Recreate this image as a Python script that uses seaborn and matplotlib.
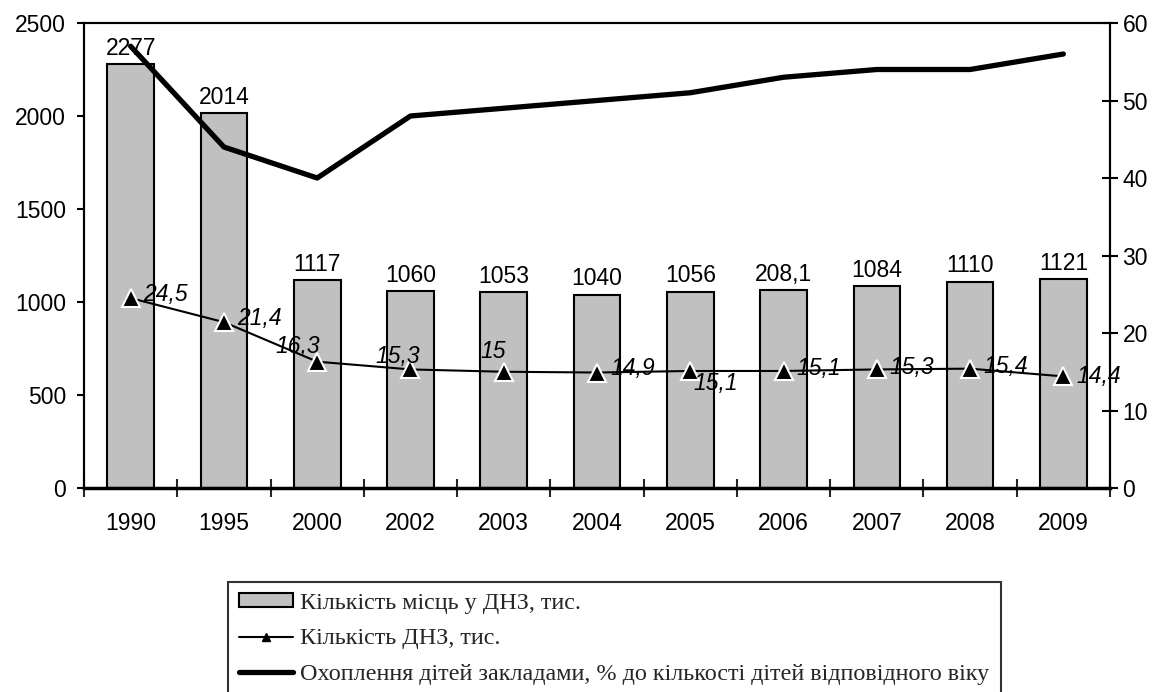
import matplotlib
matplotlib.use("Agg")
import matplotlib.pyplot as plt
import seaborn as sns
import pandas as pd
import numpy as np
from matplotlib.lines import Line2D
from matplotlib.patches import Patch

years = ["1990", "1995", "2000", "2002", "2003", "2004", "2005", "2006", "2007", "2008", "2009"]
places = [2277, 2014, 1117, 1060, 1053, 1040, 1056, 1062, 1084, 1110, 1121]
place_labels = ["2277", "2014", "1117", "1060", "1053", "1040", "1056", "208,1", "1084", "1110", "1121"]
institutions = [24.5, 21.4, 16.3, 15.3, 15.0, 14.9, 15.1, 15.1, 15.3, 15.4, 14.4]
inst_labels = ["24,5", "21,4", "16,3", "15,3", "15", "14,9", "15,1", "15,1", "15,3", "15,4", "14,4"]
coverage = [57, 44, 40, 48, 49, 50, 51, 53, 54, 54, 56]

leg_bar = "Кількість місць у ДНЗ, тис."
leg_inst = "Кількість ДНЗ, тис."
leg_cov = "Охоплення дітей закладами, % до кількості дітей відповідного віку"

sns.set_theme(style="white")
plt.rcParams["font.family"] = ["Liberation Sans", "DejaVu Sans"]

FS = 16.5
PX = 0.72  # points per pixel at 100 dpi

df = pd.DataFrame({"year": years, "places": places, "pos": np.arange(len(years)),
                   "inst": institutions, "cov": coverage})

fig = plt.figure(figsize=(11.57, 6.92), dpi=100)
ax = fig.add_axes([84/1157, 1-488/692, (1110-84)/1157, (488-23)/692])

sns.barplot(data=df, x="year", y="places", ax=ax, color="#c0c0c0", width=0.5,
            edgecolor="black", linewidth=1.5, saturation=1)
ax.set_xlim(-0.5, len(years)-0.5)
ax.set_ylim(0, 2500)
ax.set_yticks([0, 500, 1000, 1500, 2000, 2500])
ax.set_xlabel("")
ax.set_ylabel("")
ax.tick_params(axis="y", direction="out", length=5, width=1.5, labelsize=FS, pad=8, colors="black")
ax.tick_params(axis="x", which="major", length=0, labelsize=FS, pad=17, colors="black")
ax.set_xticks(np.arange(-0.5, len(years)), minor=True)
ax.tick_params(axis="x", which="minor", direction="inout", length=13, width=1.5, bottom=True)
for s in ax.spines.values():
    s.set_color("black")
    s.set_linewidth(1.5)
ax.spines["bottom"].set_linewidth(2.5)

for i, (v, lab) in enumerate(zip(places, place_labels)):
    ax.annotate(lab, (i, v), xytext=(0, 3), textcoords="offset points",
                ha="center", va="bottom", fontsize=FS, color="black")

ax2 = ax.twinx()
sns.lineplot(data=df, x="pos", y="cov", ax=ax2, color="black", linewidth=3.8, sort=False)
sns.lineplot(data=df, x="pos", y="inst", ax=ax2, color="black", linewidth=1.5, sort=False,
             marker="^", markersize=13, markerfacecolor="black", markeredgecolor="white",
             markeredgewidth=1.5)
ax2.set_ylim(0, 60)
ax2.set_yticks([0, 10, 20, 30, 40, 50, 60])
ax2.set_xlim(-0.5, len(years)-0.5)
ax2.set_xlabel("")
ax2.set_ylabel("")
ax2.tick_params(axis="y", direction="inout", length=12, width=1.5, labelsize=FS, pad=3, colors="black")
for s in ax2.spines.values():
    s.set_color("black")
    s.set_linewidth(1.5)
ax2.spines["bottom"].set_visible(False)

# (dx px, dy px up, alignment)
offsets = [(13, 4, "left"), (13, 4, "left"), (-19, 15, "center"), (-13, 13, "center"),
           (-11, 20, "center"), (13, 4, "left"), (3, -13, "left"), (13, 2, "left"),
           (13, 2, "left"), (13, 2, "left"), (13, 0, "left")]
for i, (v, lab) in enumerate(zip(institutions, inst_labels)):
    dx, dy, ha = offsets[i]
    ax2.annotate(lab, (i, v), xytext=(dx * PX, dy * PX), textcoords="offset points",
                 ha=ha, va="center", fontsize=FS, style="italic", color="black")

handles = [
    Patch(facecolor="#c0c0c0", edgecolor="black", linewidth=1.5),
    Line2D([], [], color="black", linewidth=1.5, marker="^", markersize=6,
           markerfacecolor="black", markeredgecolor="black"),
    Line2D([], [], color="black", linewidth=3.8),
]
leg = fig.legend(handles, [leg_bar, leg_inst, leg_cov], loc="upper left",
                 bbox_to_anchor=(228/1157, 1-582/692), frameon=True, fancybox=False,
                 prop={"family": "Liberation Serif", "size": 17.4}, handlelength=2.25,
                 handleheight=0.5, handletextpad=0.3, borderpad=0.45, labelspacing=0.6,
                 borderaxespad=0)
leg.get_frame().set_edgecolor("black")
leg.get_frame().set_linewidth(1.5)

fig.savefig("out.png", dpi=100)
